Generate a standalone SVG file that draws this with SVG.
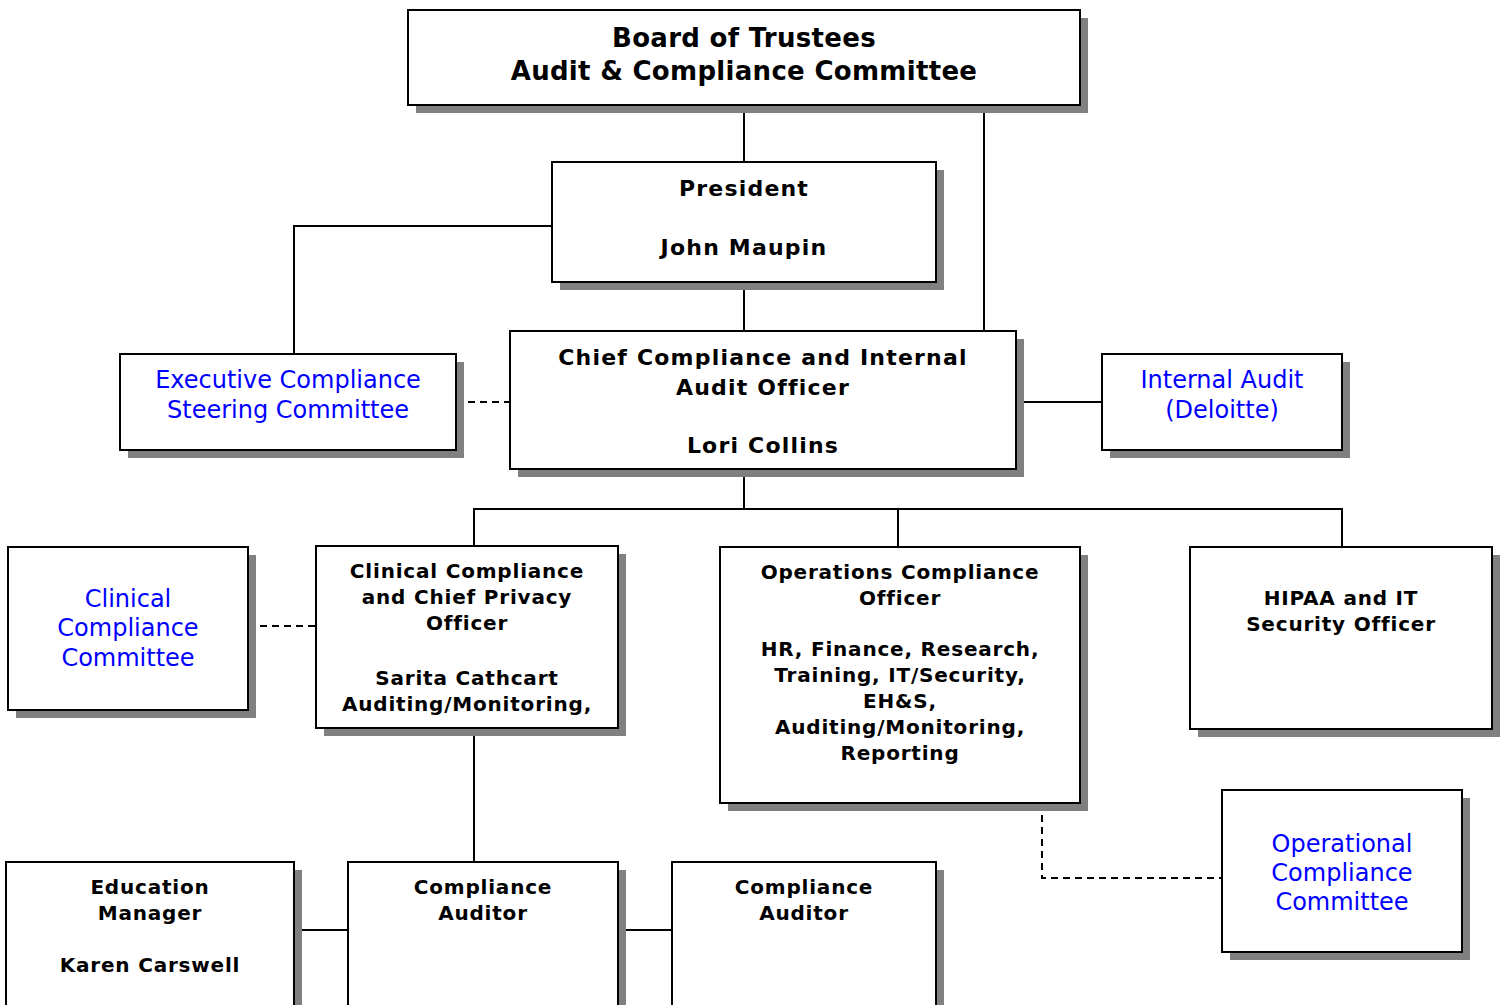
<svg xmlns="http://www.w3.org/2000/svg" width="1505" height="1005" viewBox="0 0 1505 1005">
  <style>
    .box { fill: #ffffff; stroke: #000000; stroke-width: 2; }
    .shadow { fill: #808080; }
    .line { fill: none; stroke: #000000; stroke-width: 2; }
    .dash { fill: none; stroke: #000000; stroke-width: 2; stroke-dasharray: 7 5; }
    text { font-family: "DejaVu Sans", Verdana, sans-serif; text-anchor: middle; }
    .t1 { font-size: 26px; font-weight: bold; fill: #000000; letter-spacing: 0.3px; }
    .t2 { font-size: 22px; font-weight: bold; fill: #000000; letter-spacing: 1.2px; }
    .t3 { font-size: 20px; font-weight: bold; fill: #000000; letter-spacing: 0.8px; }
    .blue { font-size: 24px; fill: #0000ff; }
  </style>
  <rect width="1505" height="1005" fill="#ffffff"/>

  <g id="connectors">
    <path class="line" d="M744 105 V162"/>
    <path class="line" d="M984 105 V331"/>
    <path class="line" d="M744 282 V331"/>
    <path class="line" d="M552 226 H294 V354"/>
    <path class="dash" d="M456 402 H510"/>
    <path class="line" d="M1016 402 H1102"/>
    <path class="line" d="M744 469 V509 M474 546 V509 H1342 V547 M898 509 V547"/>
    <path class="dash" d="M248 626 H316"/>
    <path class="line" d="M474 728 V862"/>
    <path class="line" d="M294 930 H348 M618 930 H672"/>
    <path class="dash" d="M1042 803 V878 H1222"/>
  </g>

  <g id="board">
    <rect class="shadow" x="416" y="18" width="672" height="95"/>
    <rect class="box" x="408" y="10" width="672" height="95"/>
    <text class="t1" x="744" y="47">Board of Trustees</text>
    <text class="t1" x="744" y="80">Audit &amp; Compliance Committee</text>
  </g>

  <g id="president">
    <rect class="shadow" x="560" y="170" width="384" height="120"/>
    <rect class="box" x="552" y="162" width="384" height="120"/>
    <text class="t2" x="744" y="196">President</text>
    <text class="t2" x="744" y="255">John Maupin</text>
  </g>

  <g id="chief">
    <rect class="shadow" x="518" y="339" width="506" height="138"/>
    <rect class="box" x="510" y="331" width="506" height="138"/>
    <text class="t2" x="763" y="365">Chief Compliance and Internal</text>
    <text class="t2" x="763" y="395">Audit Officer</text>
    <text class="t2" x="763" y="453">Lori Collins</text>
  </g>

  <g id="exec-steering">
    <rect class="shadow" x="128" y="362" width="336" height="96"/>
    <rect class="box" x="120" y="354" width="336" height="96"/>
    <text class="blue" x="288" y="388">Executive Compliance</text>
    <text class="blue" x="288" y="418">Steering Committee</text>
  </g>

  <g id="internal-audit">
    <rect class="shadow" x="1110" y="362" width="240" height="96"/>
    <rect class="box" x="1102" y="354" width="240" height="96"/>
    <text class="blue" x="1222" y="388">Internal Audit</text>
    <text class="blue" x="1222" y="418">(Deloitte)</text>
  </g>

  <g id="clinical-committee">
    <rect class="shadow" x="16" y="555" width="240" height="163"/>
    <rect class="box" x="8" y="547" width="240" height="163"/>
    <text class="blue" x="128" y="607">Clinical</text>
    <text class="blue" x="128" y="636">Compliance</text>
    <text class="blue" x="128" y="666">Committee</text>
  </g>

  <g id="clinical-officer">
    <rect class="shadow" x="324" y="554" width="302" height="182"/>
    <rect class="box" x="316" y="546" width="302" height="182"/>
    <text class="t3" x="467" y="578">Clinical Compliance</text>
    <text class="t3" x="467" y="604">and Chief Privacy</text>
    <text class="t3" x="467" y="630">Officer</text>
    <text class="t3" x="467" y="685">Sarita Cathcart</text>
    <text class="t3" x="467" y="711">Auditing/Monitoring,</text>
  </g>

  <g id="operations-officer">
    <rect class="shadow" x="728" y="555" width="360" height="256"/>
    <rect class="box" x="720" y="547" width="360" height="256"/>
    <text class="t3" x="900" y="579">Operations Compliance</text>
    <text class="t3" x="900" y="605">Officer</text>
    <text class="t3" x="900" y="656">HR, Finance, Research,</text>
    <text class="t3" x="900" y="682">Training, IT/Security,</text>
    <text class="t3" x="900" y="708">EH&amp;S,</text>
    <text class="t3" x="900" y="734">Auditing/Monitoring,</text>
    <text class="t3" x="900" y="760">Reporting</text>
  </g>

  <g id="hipaa-officer">
    <rect class="shadow" x="1198" y="555" width="302" height="182"/>
    <rect class="box" x="1190" y="547" width="302" height="182"/>
    <text class="t3" x="1341" y="605">HIPAA and IT</text>
    <text class="t3" x="1341" y="631">Security Officer</text>
  </g>

  <g id="operational-committee">
    <rect class="shadow" x="1230" y="798" width="240" height="162"/>
    <rect class="box" x="1222" y="790" width="240" height="162"/>
    <text class="blue" x="1342" y="852">Operational</text>
    <text class="blue" x="1342" y="881">Compliance</text>
    <text class="blue" x="1342" y="910">Committee</text>
  </g>

  <g id="education-manager">
    <rect class="shadow" x="14" y="870" width="288" height="150"/>
    <rect class="box" x="6" y="862" width="288" height="150"/>
    <text class="t3" x="150" y="894">Education</text>
    <text class="t3" x="150" y="920">Manager</text>
    <text class="t3" x="150" y="972">Karen Carswell</text>
  </g>

  <g id="auditor-1">
    <rect class="shadow" x="356" y="870" width="270" height="150"/>
    <rect class="box" x="348" y="862" width="270" height="150"/>
    <text class="t3" x="483" y="894">Compliance</text>
    <text class="t3" x="483" y="920">Auditor</text>
  </g>

  <g id="auditor-2">
    <rect class="shadow" x="680" y="870" width="264" height="150"/>
    <rect class="box" x="672" y="862" width="264" height="150"/>
    <text class="t3" x="804" y="894">Compliance</text>
    <text class="t3" x="804" y="920">Auditor</text>
  </g>
</svg>
